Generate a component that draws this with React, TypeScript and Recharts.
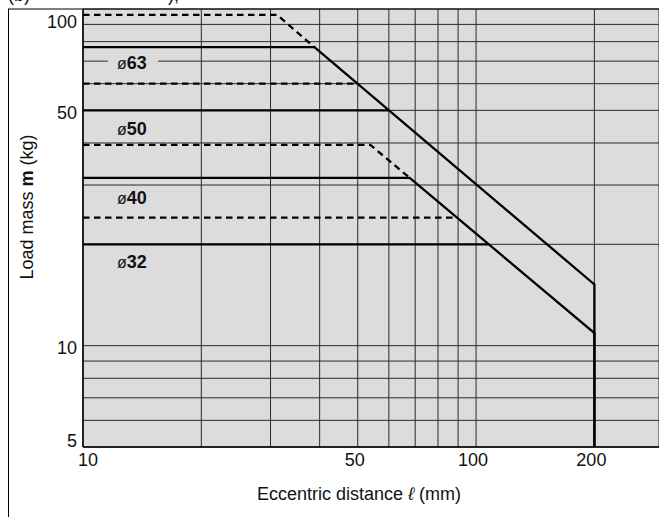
import React from 'react';
import { LineChart, Line, XAxis, YAxis, CartesianGrid, ReferenceDot } from 'recharts';

const FONT = '"Liberation Sans", Arial, Helvetica, sans-serif';

// Axis ticks (grid lines) and labelled ticks
const xTicks = [10, 20, 30, 40, 50, 60, 70, 80, 90, 100, 200];
const xLabels = [10, 50, 100, 200];
const yTicks = [5, 6, 7, 8, 9, 10, 20, 30, 40, 50, 60, 70, 80, 90, 100];
const yLabels = [5, 10, 50, 100];

// Series (eccentric distance mm -> load mass kg)
const phi63Solid = [
  { x: 10, y: 77 },
  { x: 38.8, y: 77 },
  { x: 200, y: 15.2 },
  { x: 200, y: 5 },
];
const phi63DashedTop = [
  { x: 10, y: 96 },
  { x: 31.2, y: 96 },
  { x: 38.8, y: 77 },
];
const phi63DashedLow = [
  { x: 10, y: 60 },
  { x: 50, y: 60 },
];
const phi50Solid = [
  { x: 10, y: 50 },
  { x: 60, y: 50 },
];
const phi50Dashed = [
  { x: 10, y: 39.5 },
  { x: 53.8, y: 39.5 },
  { x: 67.8, y: 31.5 },
];
const phi40Solid = [
  { x: 10, y: 31.5 },
  { x: 67.8, y: 31.5 },
  { x: 200, y: 10.9 },
  { x: 200, y: 5 },
];
const phi40Dashed = [
  { x: 10, y: 24 },
  { x: 89.5, y: 24 },
];
const phi32Solid = [
  { x: 10, y: 20 },
  { x: 107.4, y: 20 },
];

const boreLabels = [
  { num: '63', x: 12.2, y: 69.5, boxed: true },
  { num: '50', x: 12.2, y: 44.2, boxed: false },
  { num: '40', x: 12.2, y: 27.5, boxed: false },
  { num: '32', x: 12.2, y: 17.8, boxed: false },
];

const series = [
  { data: phi63DashedTop, dashed: true },
  { data: phi63Solid, dashed: false },
  { data: phi63DashedLow, dashed: true },
  { data: phi50Solid, dashed: false },
  { data: phi50Dashed, dashed: true },
  { data: phi40Solid, dashed: false },
  { data: phi40Dashed, dashed: true },
  { data: phi32Solid, dashed: false },
];

const XTick = (props: any) => {
  const { x, y, payload } = props;
  const v = payload.value;
  if (!xLabels.includes(v)) return <g />;
  const dx = v === 10 ? 5 : -3;
  return (
    <text x={x + dx} y={y + 19} textAnchor="middle" fontFamily={FONT} fontSize={18} fill="#111">
      {v}
    </text>
  );
};

const YTick = (props: any) => {
  const { x, y, payload } = props;
  const v = payload.value;
  if (!yLabels.includes(v)) return <g />;
  let dy = 8.5;
  if (v === 100) dy = 19;
  if (v === 5) dy = -0.3;
  return (
    <text x={x} y={y + dy} textAnchor="end" fontFamily={FONT} fontSize={18} fill="#111">
      {v}
    </text>
  );
};

const makeLabelShape = (num: string, boxed: boolean) => (props: any) => {
  const { cx, cy } = props;
  return (
    <g>
      {boxed && <rect x={cx - 9} y={cy - 6} width={50} height={12} fill="#dcdcdc" />}
      <text x={cx} y={cy + 6.5} fontFamily={FONT} fontSize={18} fill="#111">
        <tspan fontWeight="normal" fontSize={16}>ø</tspan>
        <tspan fontWeight="bold">{num}</tspan>
      </text>
    </g>
  );
};

const XLabel = (props: any) => {
  const { viewBox } = props;
  const cx = viewBox.x + viewBox.width / 2 - 12;
  return (
    <text x={cx} y={viewBox.y + 53} textAnchor="middle" fontFamily={FONT} fontSize={18} fill="#111">
      Eccentric distance <tspan fontStyle="italic">ℓ</tspan> (mm)
    </text>
  );
};

export default function App() {
  return (
    <div style={{ position: 'absolute', left: 0, top: 0, width: 659, height: 517, background: '#fff' }}>
      <LineChart width={659} height={517} margin={{ top: 9, right: 0, left: 0, bottom: 0 }}>
        <CartesianGrid
          stroke="#2a2a2a"
          strokeWidth={1}
          fill="#dcdcdc"
          fillOpacity={1}
          horizontal
          vertical
        />
        <XAxis
          dataKey="x"
          type="number"
          scale="log"
          domain={[10, 292]}
          allowDataOverflow
          ticks={xTicks}
          interval={0}
          height={70}
          tickLine={false}
          tickSize={0}
          tickMargin={0}
          axisLine={{ stroke: '#000', strokeWidth: 1.5 }}
          tick={<XTick />}
          label={<XLabel />}
        />
        <YAxis
          dataKey="y"
          type="number"
          scale="log"
          domain={[5, 100]}
          allowDataOverflow
          ticks={yTicks}
          interval={0}
          width={83}
          tickLine={false}
          tickSize={0}
          tickMargin={6}
          axisLine={{ stroke: '#000', strokeWidth: 1.5 }}
          tick={<YTick />}
        />
        {series.map((s, i) => (
          <Line
            key={i}
            data={s.data}
            dataKey="y"
            type="linear"
            stroke="#000"
            strokeWidth={2.3}
            strokeDasharray={s.dashed ? '6.5 4.5' : undefined}
            dot={false}
            activeDot={false}
            isAnimationActive={false}
          />
        ))}
        {boreLabels.map((b, i) => (
          <ReferenceDot
            key={'l' + i}
            x={b.x}
            y={b.y}
            r={0}
            ifOverflow="visible"
            shape={makeLabelShape(b.num, b.boxed)}
          />
        ))}
      </LineChart>
      <svg
        width={659}
        height={517}
        style={{ position: 'absolute', left: 0, top: 0, pointerEvents: 'none' }}
      >
        <line x1={8.5} y1={9} x2={8.5} y2={517} stroke="#000" strokeWidth={1} />
        <line x1={8} y1={9} x2={659} y2={9} stroke="#000" strokeWidth={1.2} />
        <text x={8} y={0.5} fontFamily={FONT} fontSize={18} fill="#111">(b)</text>
        <text x={168} y={0.5} fontFamily={FONT} fontSize={18} fill="#111">),</text>
        <text
          transform="translate(33,207) rotate(-90)"
          textAnchor="middle"
          fontFamily={FONT}
          fontSize={18}
          fill="#111"
        >
          Load mass <tspan fontWeight="bold">m</tspan> (kg)
        </text>
      </svg>
    </div>
  );
}
